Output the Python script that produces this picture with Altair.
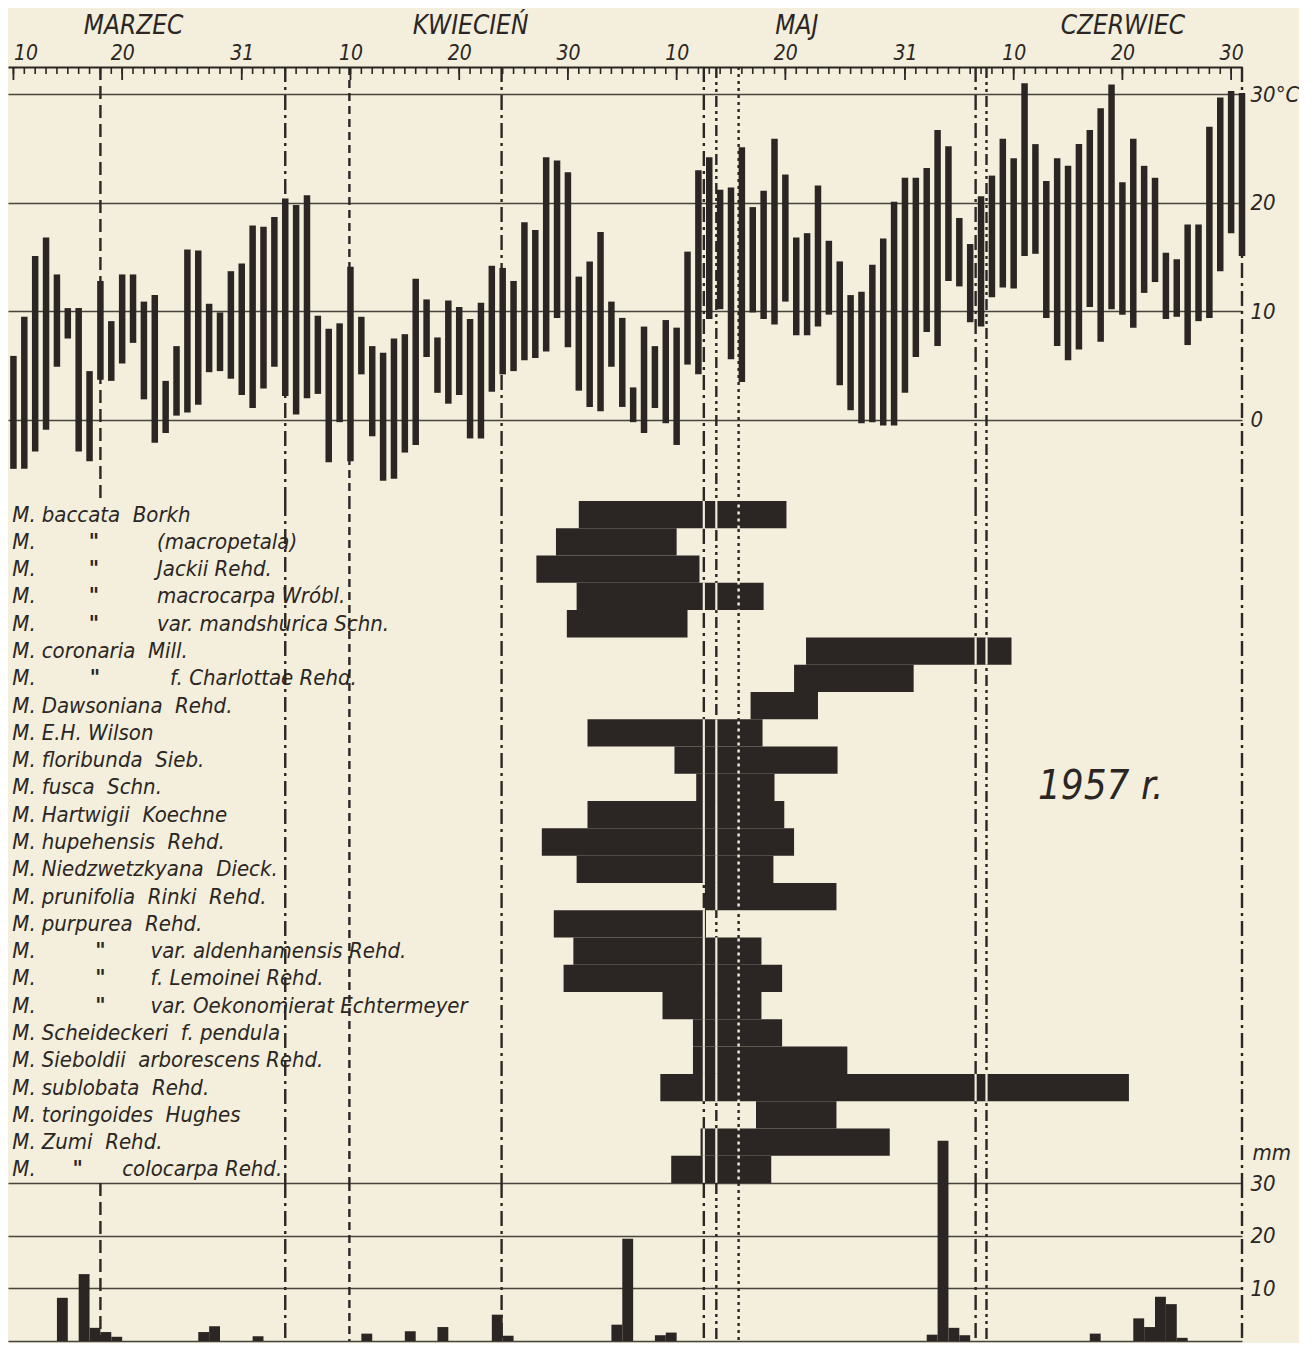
import altair as alt
import pandas as pd

INK = "#2b2623"
PAPER = "#f3efdc"
FONT = "DejaVu Sans Condensed, Liberation Sans Narrow, DejaVu Sans"

# ---------------- data ----------------
# day index 0 = 10 March 1957
t_min = [-4.5, -4.5, -2.9, -0.9, 4.9, 7.5, -2.9, -3.8, 3.7, 3.6,
         5.2, 7.1, 1.9, -2.1, -1.2, 0.4, 0.7, 1.4, 4.4, 4.5,
         3.8, 2.3, 1.1, 2.9, 4.9, 2.2, 0.5, 2.0, 2.4, -3.9,
         -0.2, -3.8, 4.2, -1.5, -5.6, -5.4, -3.0, -2.3, 5.8, 2.5,
         1.5, 2.3, -1.7, -1.7, 2.6, 4.2, 4.5, 5.5, 5.7, 6.3,
         9.4, 6.7, 2.7, 1.2, 0.8, 4.9, 1.2, -0.2, -1.2, 1.1,
         -0.3, -2.3, 5.1, 4.2, 9.3, 10.2, 5.6, 3.5, 9.9, 9.3,
         8.8, 10.9, 7.8, 7.8, 8.6, 9.7, 3.2, 0.9, -0.3, -0.2,
         -0.5, -0.5, 2.5, 5.8, 8.1, 6.8, 12.8, 12.3, 9.0, 8.6,
         11.3, 12.2, 12.1, 15.1, 15.3, 9.4, 6.8, 5.5, 6.5, 10.4,
         7.2, 10.2, 9.7, 8.5, 11.7, 12.7, 9.3, 9.5, 6.9, 9.1,
         9.4, 13.7, 17.2, 15.1]
t_max = [5.9, 9.5, 15.1, 16.8, 13.4, 10.3, 10.3, 4.5, 12.8, 9.1,
         13.4, 13.4, 10.9, 11.5, 3.6, 6.8, 15.7, 15.6, 10.7, 9.9,
         13.7, 14.4, 17.9, 17.8, 18.7, 20.4, 19.8, 20.7, 9.6, 8.4,
         8.9, 14.1, 9.5, 6.8, 6.2, 7.5, 7.9, 13.0, 11.1, 7.6,
         11.0, 10.4, 9.3, 10.8, 14.2, 14.0, 12.8, 18.2, 17.5, 24.2,
         23.9, 22.8, 13.2, 14.6, 17.3, 10.9, 9.4, 3.0, 8.6, 6.8,
         9.2, 8.5, 15.5, 23.0, 24.2, 21.2, 21.4, 25.1, 19.6, 21.1,
         25.9, 22.6, 16.8, 17.2, 21.6, 16.5, 14.6, 11.5, 11.8, 14.3,
         16.7, 20.1, 22.3, 22.3, 23.2, 26.7, 25.2, 18.6, 16.2, 20.6,
         22.5, 25.9, 24.1, 31.0, 25.4, 22.0, 24.1, 23.4, 25.4, 26.7,
         28.7, 30.9, 21.9, 25.9, 23.4, 22.3, 15.4, 14.8, 18.0, 18.0,
         27.0, 29.7, 30.3, 30.1]
days = list(range(len(t_min)))

tick_days = [0, 10, 21, 31, 41, 51, 61, 71, 82, 92, 102, 112]
tick_labels = ["10", "20", "31", "10", "20", "30", "10", "20", "31", "10", "20", "30"]
month_days = [11, 42, 72, 102]
month_names = ["MARZEC", "KWIECIEŃ", "MAJ", "CZERWIEC"]

species_ditto = ["", '"', '"', '"', '"', "", '"', "", "", "", "", "", "",
                 "", "", "", '"', '"', '"', "", "", "", "", "", '"']
species_name = [
    "baccata\u00a0\u00a0Borkh", "(macropetala)", "Jackii Rehd.", "macrocarpa Wróbl.",
    "var. mandshurica Schn.", "coronaria\u00a0\u00a0Mill.", "f. Charlottae Rehd.",
    "Dawsoniana\u00a0\u00a0Rehd.", "E.H. Wilson", "floribunda\u00a0\u00a0Sieb.",
    "fusca\u00a0\u00a0Schn.", "Hartwigii\u00a0\u00a0Koechne", "hupehensis\u00a0\u00a0Rehd.",
    "Niedzwetzkyana\u00a0\u00a0Dieck.", "prunifolia\u00a0\u00a0Rinki\u00a0\u00a0Rehd.",
    "purpurea\u00a0\u00a0Rehd.", "var. aldenhamensis Rehd.", "f. Lemoinei Rehd.",
    "var. Oekonomierat Echtermeyer", "Scheideckeri\u00a0\u00a0f. pendula",
    "Sieboldii\u00a0\u00a0arborescens Rehd.", "sublobata\u00a0\u00a0Rehd.",
    "toringoides\u00a0\u00a0Hughes", "Zumi\u00a0\u00a0Rehd.", "colocarpa Rehd."]
species_group = ["plain", "baccata", "baccata", "baccata", "baccata", "plain", "coronaria",
                 "plain", "plain", "plain", "plain", "plain", "plain", "plain", "plain",
                 "plain", "purpurea", "purpurea", "purpurea", "plain", "plain", "plain",
                 "plain", "plain", "zumi"]
flower_start = [52.0, 49.9, 48.1, 51.8, 50.9, 72.9, 71.8, 67.8, 52.8, 60.8, 62.8, 52.8, 48.6,
                51.8, 63.6, 49.7, 51.5, 50.6, 59.7, 62.5, 62.5, 59.5, 68.3, 63.2, 60.5]
flower_end = [71.1, 61.0, 63.1, 69.0, 62.0, 91.8, 82.8, 74.0, 68.9, 75.8, 70.0, 70.9, 71.8,
              69.9, 75.7, 63.7, 68.8, 70.7, 68.8, 70.7, 76.7, 102.6, 75.7, 80.6, 69.7]

precip_day = [4, 6, 7, 8, 9, 17, 18, 22, 32, 36, 39, 44, 45, 55, 56, 59, 60,
              84, 85, 86, 87, 99, 103, 104, 105, 106, 107]
precip_mm = [8.2, 12.7, 2.5, 1.7, 0.8, 1.7, 2.8, 0.9, 1.4, 1.85, 2.65, 5.0, 1.0, 3.1, 19.4,
             1.1, 1.6, 1.2, 38.0, 2.5, 1.1, 1.4, 4.3, 2.65, 8.4, 7.0, 0.6]

line_day = [8.0, 25.0, 30.9, 44.9, 63.5, 64.65, 66.7, 88.5, 89.5, 113.0]
line_kind = ["dash", "dashdot", "short", "dashdot", "dashdot", "dashdotdot", "dot",
             "dashdot", "dashdotdot", "dashdot"]

# ---------------- styles / layout ----------------
DASHES = {"dash": [13, 6], "dashdot": [15, 5, 3, 5], "short": [8, 5],
          "dashdotdot": [11, 4, 3, 4, 3, 4], "dot": [3, 4]}
# label column positions (in day units of the x scale)
COL_M = -0.1
COLS = {"plain": (None, 2.6), "baccata": (7.4, 13.2), "coronaria": (7.5, 14.4),
        "purpurea": (8.0, 12.6), "zumi": (5.9, 10.0)}
GAP_LINES = [4, 5, 7, 8]   # indexes of lines that show as white gaps inside bars
DOT_LINE = 6

xs = alt.Scale(domain=[-0.5, 113], nice=False, zero=False)
kinds = list(DASHES.keys())
dash_scale = alt.Scale(domain=kinds, range=[DASHES[k] for k in kinds])


def label_expr(values, labels):
    expr = "''"
    for v, l in zip(reversed(values), reversed(labels)):
        expr = f"datum.value == {v} ? '{l}' : ({expr})"
    return expr


lines_df = pd.DataFrame({"day": line_day, "kind": line_kind})


def vlines(df):
    return alt.Chart(df).mark_rule(strokeWidth=2.4, color=INK).encode(
        x=alt.X("day:Q", scale=xs, axis=None),
        strokeDash=alt.StrokeDash("kind:N", scale=dash_scale, legend=None),
    )


# ---------------- temperature panel ----------------
temp_df = pd.DataFrame({"day": days, "tmin": t_min, "tmax": t_max})
ys_t = alt.Scale(domain=[-7.46, 32.5], nice=False, zero=False)

day_axis = alt.Axis(orient="top", values=tick_days, labelExpr=label_expr(tick_days, tick_labels),
                    domain=True, domainColor=INK, domainWidth=2, ticks=False, tickSize=0,
                    grid=False, labelFont=FONT, labelFontSize=21, labelFontStyle="italic",
                    labelColor=INK, labelPadding=4, labelFlush=10, title=None)
month_axis = alt.Axis(orient="top", values=month_days,
                      labelExpr=label_expr(month_days, month_names),
                      domain=False, ticks=False, tickSize=0, grid=False, labelFont=FONT,
                      labelFontSize=26, labelFontStyle="italic", labelColor=INK,
                      labelPadding=29, labelFlush=False, title=None)
temp_axis = alt.Axis(orient="right", values=[0, 10, 20, 30],
                     labelExpr="datum.value == 30 ? '30°C' : datum.label",
                     grid=True, gridColor=INK, gridWidth=1.3, gridOpacity=0.85,
                     domain=False, ticks=False, tickSize=0, labelPadding=8, labelFont=FONT,
                     labelFontSize=22, labelFontStyle="italic", labelColor=INK, title=None)

temp_bars = alt.Chart(temp_df).mark_rule(strokeWidth=6.5, color=INK, strokeCap="butt").encode(
    x=alt.X("day:Q", scale=xs, axis=day_axis),
    y=alt.Y("tmin:Q", scale=ys_t, axis=temp_axis),
    y2="tmax:Q",
)
ticks_df = pd.DataFrame({"day": list(range(0, 113))})
long_df = pd.DataFrame({"day": tick_days})
short_ticks = alt.Chart(ticks_df).mark_rule(strokeWidth=1.6, color=INK).encode(
    x=alt.X("day:Q", scale=xs, axis=month_axis), y=alt.value(0), y2=alt.value(7))
long_ticks = alt.Chart(long_df).mark_rule(strokeWidth=1.8, color=INK).encode(
    x=alt.X("day:Q", scale=xs, axis=None), y=alt.value(0), y2=alt.value(13))

temp = alt.layer(vlines(lines_df), temp_bars, short_ticks, long_ticks).resolve_axis(
    x="independent").properties(width=1234, height=434)

# ---------------- flowering panel ----------------
rows = list(range(len(species_name)))
flow_df = pd.DataFrame({
    "row": rows, "start": flower_start, "end": flower_end, "name": species_name,
    "ditto": species_ditto, "group": species_group,
})
flow_df["m"] = "M."
flow_df["mx"] = COL_M
flow_df["dx"] = [COLS[g][0] if COLS[g][0] is not None else -10 for g in species_group]
flow_df["nx"] = [COLS[g][1] for g in species_group]

gaps = []
for r in rows:
    for i in GAP_LINES:
        L = line_day[i]
        if flower_start[r] < L < flower_end[r]:
            gaps.append({"row": r, "x0": L - 0.1, "x1": L + 0.1})
gaps_df = pd.DataFrame(gaps)

ys_f = alt.Scale(domain=rows, paddingInner=0, paddingOuter=0)
Yf = alt.Y("row:O", scale=ys_f, axis=None)

flow_lines = vlines(lines_df.iloc[1:])
flow_bars = alt.Chart(flow_df).mark_bar(color=INK, opacity=1).encode(
    x=alt.X("start:Q", scale=xs, axis=None), x2="end:Q", y=Yf)
gap_bars = alt.Chart(gaps_df).mark_bar(color=PAPER, opacity=1).encode(
    x=alt.X("x0:Q", scale=xs, axis=None), x2="x1:Q", y=Yf)
dot_gap = alt.Chart(lines_df.iloc[[DOT_LINE]]).mark_rule(
    strokeWidth=2.4, color=PAPER, strokeDash=DASHES["dot"], strokeDashOffset=3.5).encode(
    x=alt.X("day:Q", scale=xs, axis=None))

txt = dict(align="left", baseline="middle", font=FONT, fontSize=22, fontStyle="italic",
           color=INK)
m_text = alt.Chart(flow_df).mark_text(**txt).encode(
    x=alt.X("mx:Q", scale=xs, axis=None), y=Yf, text="m:N")
ditto_text = alt.Chart(flow_df[flow_df["ditto"] != ""]).mark_text(
    **{**txt, "align": "center", "fontWeight": "bold"}).encode(
    x=alt.X("dx:Q", scale=xs, axis=None), y=Yf, text="ditto:N")
name_text = alt.Chart(flow_df).mark_text(**txt).encode(
    x=alt.X("nx:Q", scale=xs, axis=None), y=Yf, text="name:N")
year_text = alt.Chart(pd.DataFrame({"day": [100.0], "row": [10], "t": ["1957 r."]})).mark_text(
    align="center", baseline="middle", font=FONT, fontSize=40, fontStyle="italic",
    color=INK).encode(x=alt.X("day:Q", scale=xs, axis=None), y=Yf, text="t:N")

flow = alt.layer(flow_lines, flow_bars, gap_bars, dot_gap, m_text, ditto_text, name_text,
                 year_text).properties(width=1234, height=682)

# ---------------- precipitation panel ----------------
prec_df = pd.DataFrame({"day": precip_day, "mm": precip_mm})
prec_axis = alt.Axis(orient="right", values=[0, 10, 20, 30],
                     labelExpr="datum.value == 0 ? '' : datum.label",
                     grid=True, gridColor=INK, gridWidth=1.3, gridOpacity=0.85,
                     domain=False, ticks=False, tickSize=0, labelPadding=8, labelFont=FONT,
                     labelFontSize=22, labelFontStyle="italic", labelColor=INK,
                     title="mm", titleAngle=0, titleAlign="left", titleBaseline="bottom",
                     titleX=10, titleY=-19, titleFont=FONT, titleFontSize=22,
                     titleFontStyle="italic", titleFontWeight="normal", titleColor=INK)
prec_bars = alt.Chart(prec_df).transform_calculate(day_end="datum.day + 1").mark_bar(
    color=INK, opacity=1).encode(
    x=alt.X("day:Q", scale=xs, axis=None), x2="day_end:Q",
    y=alt.Y("mm:Q", scale=alt.Scale(domain=[0, 30], nice=False), axis=prec_axis),
    y2=alt.datum(0),
)
prec = alt.layer(vlines(lines_df), prec_bars).properties(width=1234, height=158)

chart = alt.vconcat(temp, flow, prec, spacing=0, bounds="flush").configure_view(
    stroke=None).properties(
    background=PAPER, padding={"left": 0, "top": 4, "right": 0, "bottom": 0})

chart.save("out.html", embed_options={"renderer": "svg", "actions": False})
